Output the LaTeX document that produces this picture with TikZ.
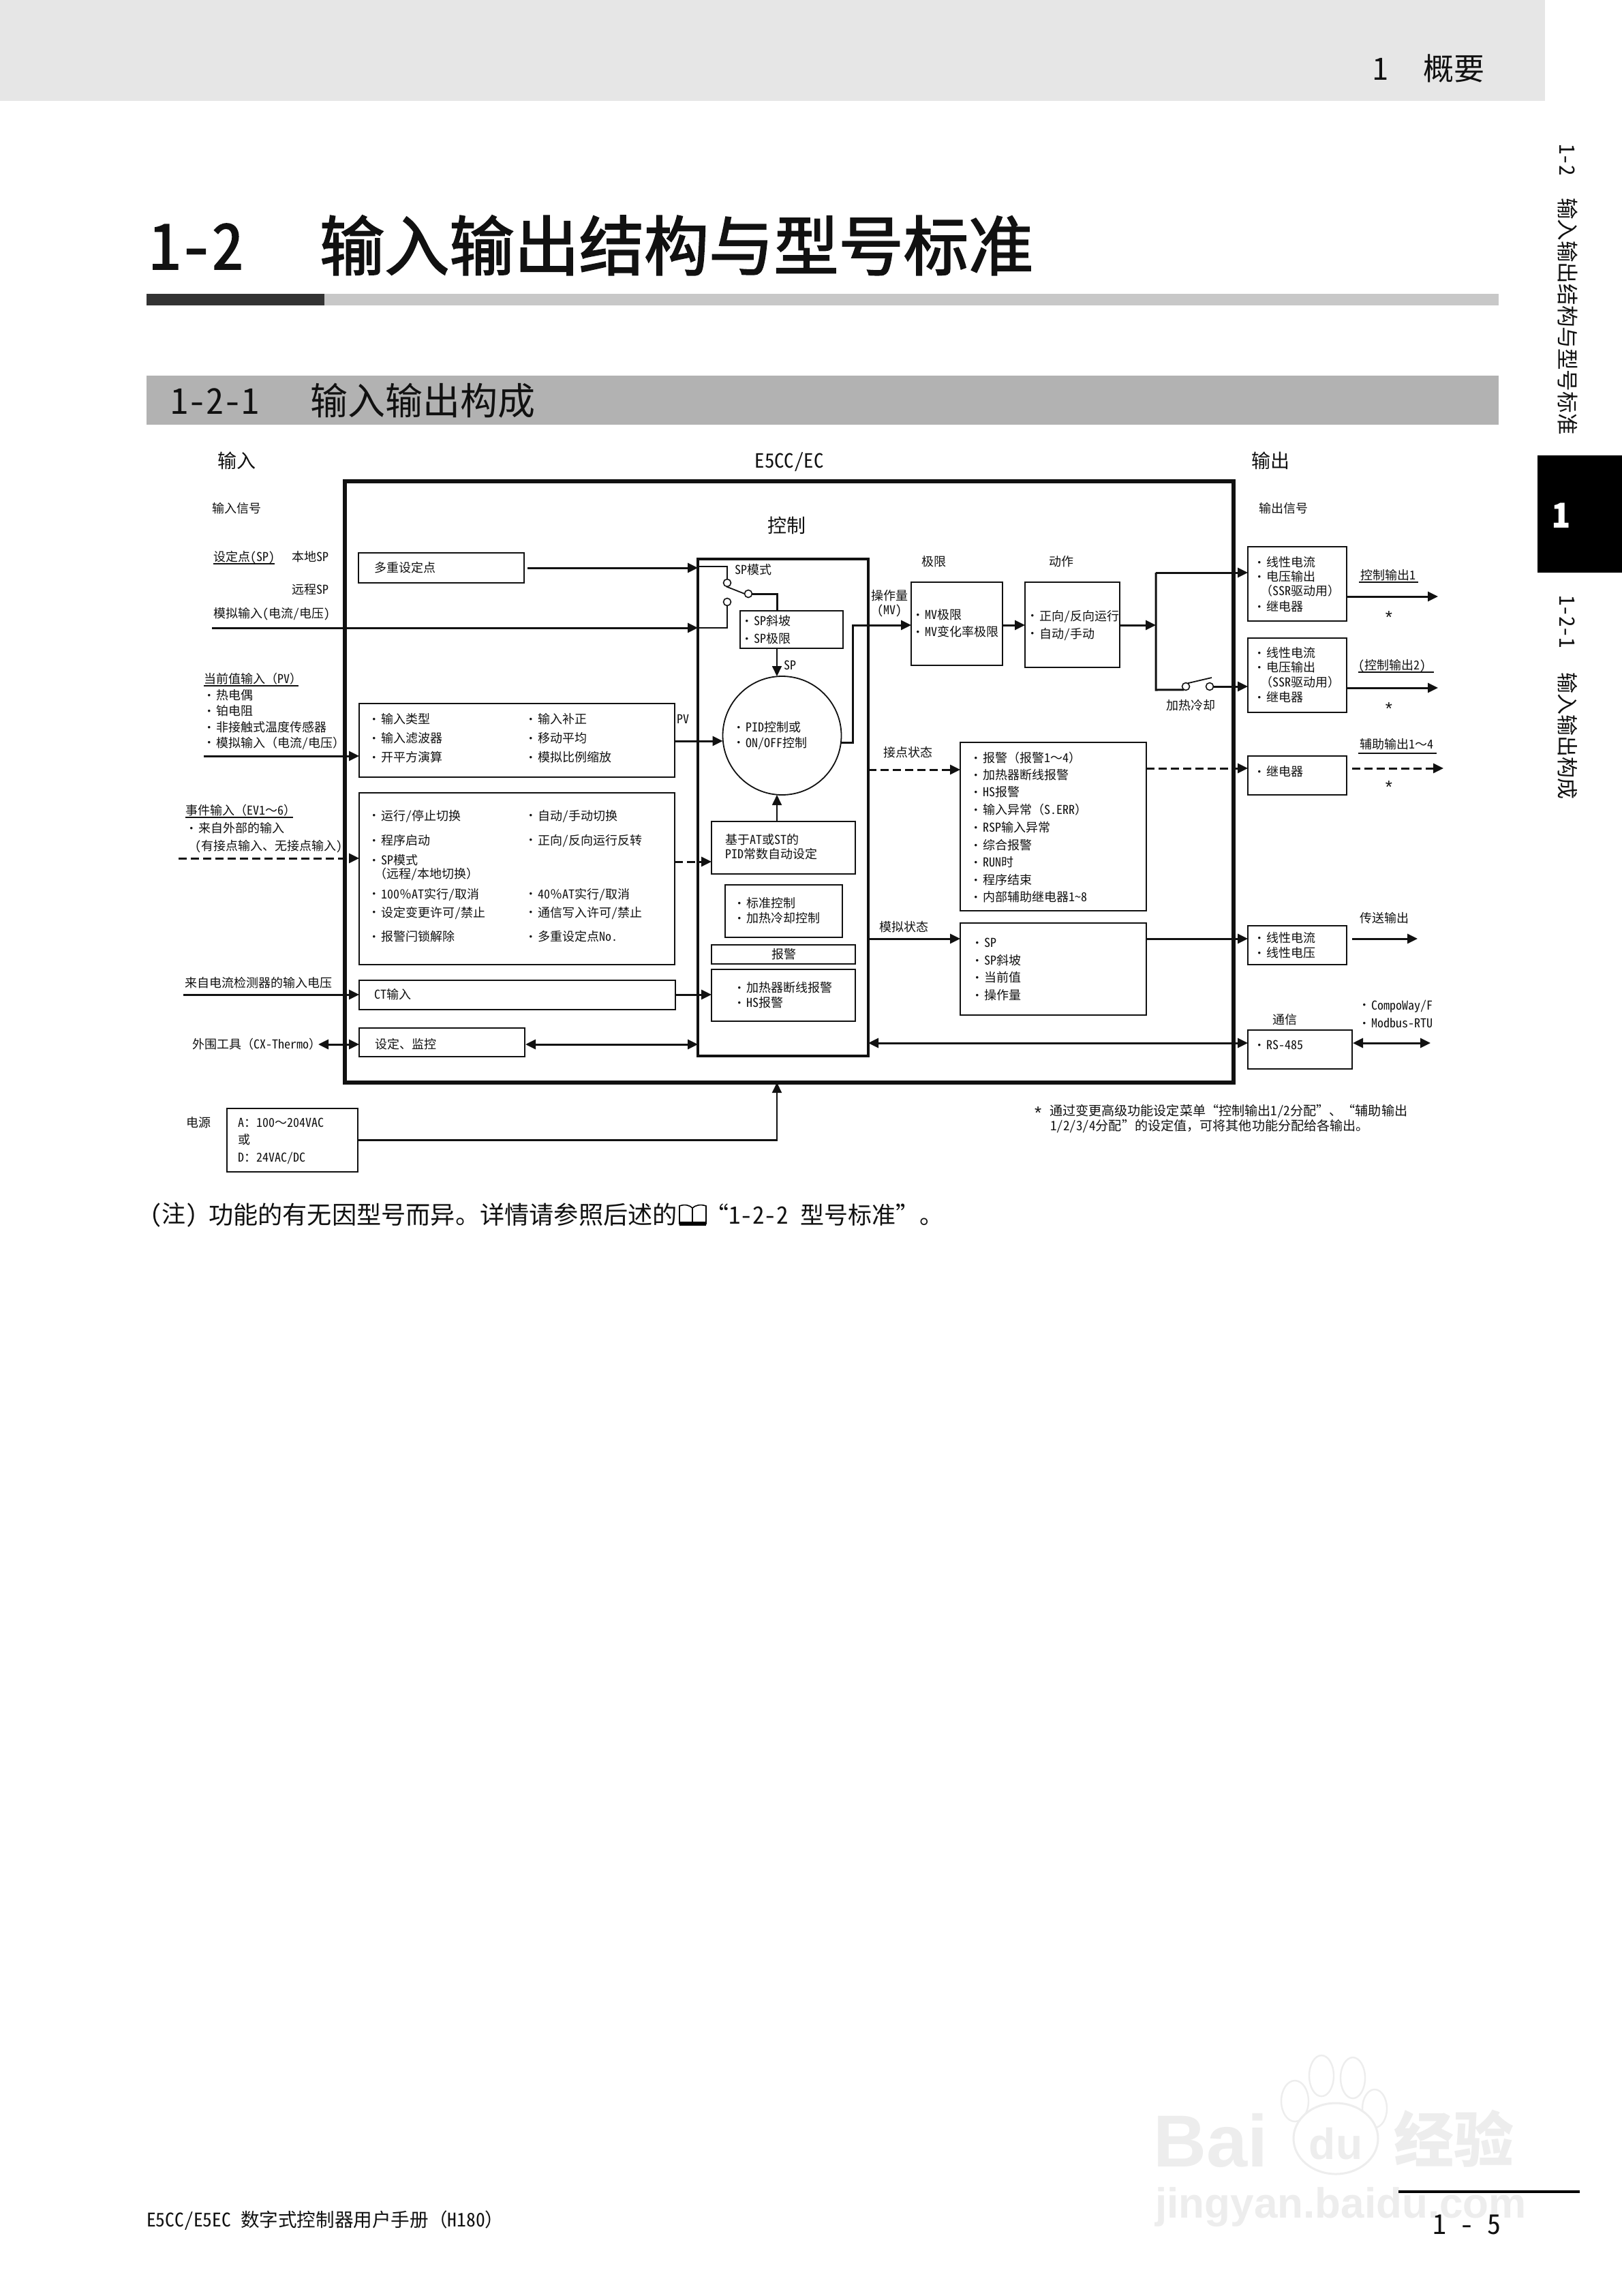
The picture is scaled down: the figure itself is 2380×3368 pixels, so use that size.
\documentclass[tikz,border=0pt]{standalone}
\usepackage{fontspec}
\setmainfont[RawFeature=+hwid]{Noto Sans CJK SC}
\newfontfamily\fwf{Noto Sans CJK SC}
\newfontfamily\wmfont{Liberation Sans}
\usetikzlibrary{arrows.meta}
\definecolor{hdr}{HTML}{E6E6E6}
\definecolor{barD}{HTML}{333333}
\definecolor{barL}{HTML}{C8C8C8}
\definecolor{barS}{HTML}{B2B2B2}
\definecolor{wm}{HTML}{EDEDED}
\definecolor{ink}{HTML}{111111}
\newcounter{tc}
\newcommand\fz[1]{\fontsize{#1}{#1}\selectfont}
\newcommand\stt{\rule[-.12em]{0pt}{1em}}
\newcommand\F[1]{{\fwf #1}}
\newcommand\bul{\llap{\makebox[10pt][c]{\raisebox{1.2pt}{\wmfont\fz{6.5}•}}}}
\newcommand\astk{{\wmfont\fz{13}*}}
\tikzset{
  txt/.style={inner sep=0pt,outer sep=0pt,text=ink},
  boxn/.style={draw=ink,line width=1pt,inner sep=0pt,outer sep=0pt,rectangle},
  thinb/.style={boxn,line width=.8pt},
  cont/.style={circle,draw=ink,line width=.8pt,minimum size=5.5pt,inner sep=0pt,outer sep=0pt},
  line/.style={draw=ink,line width=1.5pt},
  tline/.style={draw=ink,line width=.9pt},
  arr/.style={line,-{Triangle[length=7.5pt,width=7pt]}},
  darr/.style={line,{Triangle[length=7.5pt,width=7pt]}-{Triangle[length=7.5pt,width=7pt]}},
  dashy/.style={dash pattern=on 6pt off 3pt},
  ul/.style={draw=ink,line width=.6pt},
}
\newcommand\bx[6][boxn]{\node[#1,minimum width={(#5-#3)*0.5pt},minimum height={(#6-#4)*0.5pt}] (#2) at ({(#3+#5)/2},{(#4+#6)/2}) {};}
\newcommand\T[4][9]{\stepcounter{tc}\node[txt,anchor=west,font=\fz{#1}] (t\arabic{tc}) at (#2,#3) {\stt #4};}
\newcommand\C[4][9]{\stepcounter{tc}\node[txt,anchor=center,font=\fz{#1}] (t\arabic{tc}) at (#2,#3) {\stt #4};}
\newcommand\B[4][9]{\stepcounter{tc}\node[txt,anchor=west,font=\fz{#1}] (t\arabic{tc}) at (#2,#3) {\stt\bul #4};}
\newcommand\R[4]{\stepcounter{tc}\node[txt,rotate=-90,anchor=west,font=\fz{#1}] (t\arabic{tc}) at (#2,#3) {\stt #4};}
\begin{document}
\begin{tikzpicture}[x=0.5pt,y=-0.5pt]
\useasboundingbox (0,0) rectangle (2380,3368);
\fill[white] (0,0) rectangle (2380,3368);
% page furniture
\fill[hdr] (0,0) rectangle (2267,148);
\T[22.5]{2014}{100}{1}
\T[22.5]{2088}{100}{概要}
\fill[black] (2256,668) rectangle (2380,840);
\stepcounter{tc}\node[inner sep=0pt,text=white,font=\fz{25}\bfseries] (t\arabic{tc}) at (2291,756) {1};
\R{15.5}{2300}{211}{1-2}
\R{15.8}{2300}{290}{输入输出结构与型号标准}
\R{15.5}{2300}{873}{1-2-1}
\R{15.5}{2300}{986}{输入输出构成}
\T[46]{219}{360}{\addfontfeature{FakeBold=2}1-2}
\T[47.6]{469}{360}{\addfontfeature{FakeBold=2}输入输出结构与型号标准}
\fill[barL] (476,431) rectangle (2199,448);
\fill[barD] (215,431) rectangle (476,448);
\fill[barS] (215,551) rectangle (2199,623);
\T[26]{250}{588}{1-2-1}
\T[27.5]{455}{588}{输入输出构成}
% watermark
\foreach \px/\py/\rx/\ry in {1900/3082/20/30,1939/3045/18/30,1985/3048/18/30,2017/3093/18/28}
  \draw[wm,line width=1.2pt,fill=white] (\px,\py) ellipse ({\rx*0.5pt} and {\ry*0.5pt});
\draw[wm,line width=1.5pt,fill=white] (1960,3137) ellipse (31pt and 26pt);
\stepcounter{tc}\node[inner sep=0pt,anchor=west,text=wm,font=\wmfont\bfseries\fz{54}] (t\arabic{tc}) at (1692,3140) {Bai};
\stepcounter{tc}\node[inner sep=0pt,text=wm,font=\wmfont\bfseries\fz{32}] (t\arabic{tc}) at (1960,3145) {du};
\stepcounter{tc}\node[inner sep=0pt,anchor=west,text=wm,font=\bfseries\fz{44}] (t\arabic{tc}) at (2045,3137) {经验};
\stepcounter{tc}\node[inner sep=0pt,anchor=west,text=wm,font=\wmfont\bfseries\fz{31}] (t\arabic{tc}) at (1695,3238) {jingyan.baidu.com};
% footer
\draw[black,line width=2pt] (2052,3215) -- (2318,3215);
\T[20]{2102}{3262}{1 - 5}
\T[13.8]{215}{3257}{E5CC/E5EC 数字式控制器用户手册\F{（}H180\F{）}}
% note
\T[17.5]{220}{1782}{(注)}
\T[18.1]{306}{1782}{功能的有无因型号而异。详情请参照后述的}
\draw[black,line width=.8pt] (997,1769) .. controls (1005,1766) and (1012,1768) .. (1016,1772) .. controls (1020,1768) and (1028,1766) .. (1036,1769) -- (1036,1795) .. controls (1028,1792) and (1020,1794) .. (1016,1797) .. controls (1012,1794) and (1005,1792) .. (997,1795) -- cycle (1016,1772) -- (1016,1797);
\fill[black] (997,1792) rectangle (1036,1798);
\T[17.5]{1034}{1782}{“1-2-2 型号标准”。}
% titles
\C[14]{347}{676}{输入}
\C[14.4]{1158}{676}{E5CC/EC}
\C[14]{1864}{676}{输出}
\C[14]{1154}{771}{控制}
\T{311}{746}{输入信号}
\T{1847}{746}{输出信号}
% main frames
\bx[boxn,line width=2.6pt]{frame}{506}{706}{1810}{1588}
\bx[boxn,line width=2.2pt]{ctrl}{1024}{820}{1274}{1549}
% left labels
\T{313}{817}{设定点(SP)}
\draw[ul] (313,827) -- (403,827);
\T{428}{817}{本地SP}
\T{428}{865}{远程SP}
\T{313}{900}{模拟输入(电流/电压)}
\T{299}{996}{当前值输入\F{（}PV\F{）}}
\draw[ul] (299,1006) -- (438,1006);
\B{317}{1020}{热电偶}
\B{317}{1043}{铂电阻}
\B{317}{1067}{非接触式温度传感器}
\B{317}{1090}{模拟输入\F{（}电流/电压\F{）}}
\T{272}{1189}{事件输入\F{（}EV1\F{～}6\F{）}}
\draw[ul] (272,1199) -- (430,1199);
\B{291}{1215}{来自外部的输入}
\T{286}{1241}{（有接点输入、无接点输入）}
\T{271}{1442}{来自电流检测器的输入电压}
\T{282}{1532}{外围工具\F{（}CX-Thermo\F{）}}
\T{273}{1647}{电源}
% left boxes
\bx{msp}{526}{811}{769}{855}
\T{549}{833}{多重设定点}
\bx[thinb]{inb}{527}{1032}{990}{1140}
\B{559}{1055}{输入类型}
\B{559}{1083}{输入滤波器}
\B{559}{1111}{开平方演算}
\B{789}{1055}{输入补正}
\B{789}{1083}{移动平均}
\B{789}{1111}{模拟比例缩放}
\T{993}{1055}{PV}
\bx[thinb]{evb}{527}{1163}{990}{1415}
\B{559}{1197}{运行/停止切换}
\B{559}{1233}{程序启动}
\B{559}{1262}{SP模式}
\T{549}{1282}{\F{（}远程/本地切换\F{）}}
\B{559}{1312}{100\F{％}AT实行/取消}
\B{559}{1339}{设定变更许可/禁止}
\B{559}{1374}{报警闩锁解除}
\B{789}{1197}{自动/手动切换}
\B{789}{1233}{正向/反向运行反转}
\B{789}{1312}{40\F{％}AT实行/取消}
\B{789}{1339}{通信写入许可/禁止}
\B{789}{1374}{多重设定点No.}
\bx[thinb]{ctb}{527}{1438}{991}{1481}
\T{549}{1459}{CT输入}
\bx[thinb]{setb}{527}{1508}{770}{1550}
\T{550}{1532}{设定\F{、}监控}
\bx[thinb]{pwr}{333}{1626}{525}{1719}
\T{349}{1647}{A\F{：}100\F{～}204VAC}
\T{349}{1672}{或}
\T{349}{1698}{D\F{：}24VAC/DC}
% control interior
\T{1078}{836}{SP模式}
\node[cont] (c1) at (1067,855) {};
\node[cont] (c2) at (1067,883) {};
\node[cont] (c3) at (1098,871) {};
\bx{spb}{1086}{896}{1237}{951}
\B{1106}{911}{SP斜坡}
\B{1106}{937}{SP极限}
\T{1150}{976}{SP}
\node[draw=ink,line width=.9pt,circle,minimum size=87pt,inner sep=0pt,outer sep=0pt] (pid) at (1147.5,1079) {};
\B{1094}{1067}{PID控制或}
\B{1094}{1090}{ON/OFF控制}
\bx{atb}{1044}{1205}{1255}{1282}
\T{1064}{1232}{基于AT或ST的}
\T{1064}{1253}{PID常数自动设定}
\bx[thinb]{stb}{1064}{1298}{1236}{1375}
\B{1095}{1325}{标准控制}
\B{1095}{1347}{加热冷却控制}
\bx[thinb]{alh}{1044}{1386}{1255}{1414}
\C{1150}{1400}{报警}
\bx[thinb]{hsb}{1044}{1422}{1255}{1498}
\B{1095}{1449}{加热器断线报警}
\B{1095}{1471}{HS报警}
% middle
\C{1305}{874}{操作量}
\C{1305}{895}{(MV)}
\C{1370}{824}{极限}
\C{1557}{824}{动作}
\bx[thinb]{mvb}{1337}{854}{1471}{976}
\B{1357}{902}{MV极限}
\B{1357}{927}{MV变化率极限}
\bx[thinb]{actb}{1504}{854}{1643}{979}
\B{1525}{904}{正向/反向运行}
\B{1525}{930}{自动/手动}
\T{1296}{1104}{接点状态}
\T{1290}{1360}{模拟状态}
\bx[thinb]{alb}{1409}{1089}{1682}{1336}
\B{1442}{1112}{报警\F{（}报警1\F{～}4\F{）}}
\B{1442}{1137}{加热器断线报警}
\B{1442}{1162}{HS报警}
\B{1442}{1188}{输入异常\F{（}S.ERR\F{）}}
\B{1442}{1214}{RSP输入异常}
\B{1442}{1240}{综合报警}
\B{1442}{1265}{RUN时}
\B{1442}{1291}{程序结束}
\B{1442}{1316}{内部辅助继电器1～8}
\bx[thinb]{anb}{1409}{1354}{1682}{1489}
\B{1444}{1383}{SP}
\B{1444}{1409}{SP斜坡}
\B{1444}{1434}{当前值}
\B{1444}{1460}{操作量}
\node[cont] (c4) at (1740,1007) {};
\node[cont] (c5) at (1775,1007) {};
\C{1747}{1035}{加热冷却}
% right
\bx{o1}{1831}{802}{1976}{911}
\B{1858}{825}{线性电流}
\B{1858}{846}{电压输出}
\T{1849}{867}{\F{（}SSR驱动用\F{）}}
\B{1858}{890}{继电器}
\bx{o2}{1831}{936}{1976}{1045}
\B{1858}{958}{线性电流}
\B{1858}{979}{电压输出}
\T{1849}{1001}{\F{（}SSR驱动用\F{）}}
\B{1858}{1023}{继电器}
\bx{o3}{1831}{1109}{1976}{1166}
\B{1858}{1132}{继电器}
\bx{o4}{1831}{1358}{1976}{1415}
\B{1858}{1376}{线性电流}
\B{1858}{1398}{线性电压}
\bx[thinb]{o5}{1831}{1511}{1984}{1568}
\B{1858}{1533}{RS-485}
\T{1996}{844}{控制输出1}
\draw[ul] (1994,854) -- (2081,854);
\C{2038}{907}{\astk}
\T{1993}{976}{(控制输出2)}
\draw[ul] (1993,986) -- (2104,986);
\C{2038}{1041}{\astk}
\T{1995}{1092}{辅助输出1\F{～}4}
\draw[ul] (1993,1105) -- (2108,1105);
\C{2038}{1156}{\astk}
\T{1995}{1347}{传送输出}
\C{1885}{1496}{通信}
\B{2012}{1475}{CompoWay/F}
\B{2012}{1501}{Modbus-RTU}
\T[9.5]{1518}{1634}{\astk}
\T[9.55]{1540}{1630}{通过变更高级功能设定菜单\F{“}控制输出1/2分配\F{”、“}辅助输出}
\T[9.55]{1541}{1652}{1/2/3/4分配\F{”}的设定值\F{，}可将其他功能分配给各输出。}
% connectors: free ends and junctions
\coordinate (aIn) at (311,921);
\coordinate (pvIn) at (299,1109);
\coordinate (evIn) at (262,1259);
\coordinate (ctIn) at (269,1459);
\coordinate (tool) at (467,1532);
\coordinate (jSP) at (1024,831);
\coordinate (jMV) at (1251,917);
\coordinate (jBr) at (1696,917);
\coordinate (jBrT) at (1696,840);
\coordinate (jBrB) at (1696,1012);
\coordinate (blade) at (1778,994);
\coordinate (oo1) at (2110,875);
\coordinate (oo2) at (2110,1009);
\coordinate (oo3) at (2118,1127);
\coordinate (oo4) at (2080,1377);
\coordinate (oo5) at (2099,1530);
\draw[arr] ([xshift=2.5pt]msp.east) -- (ctrl.west |- msp.east);
\draw[tline] (jSP) -| (c1.north);
\draw[arr] (aIn) -- (ctrl.west |- aIn);
\draw[tline] (ctrl.west |- aIn) -| (c2.south);
\draw[tline] (c1.south) ++(-1,0) -- (c3.west);
\draw[line] (c3.east) -| (spb.north -| 1140,0);
\draw[arr,line width=.9pt] (spb.south -| 1140,0) -- (pid.north -| 1140,0);
\draw[arr,line width=.9pt] (atb.north -| 1140,0) -- (pid.south -| 1140,0);
\draw[arr] (pvIn) -- (inb.west |- pvIn);
\draw[arr] (inb.east |- 0,1087) -- (pid.west |- 0,1087);
\draw[arr,dashy] (evIn) -- (evb.west |- evIn);
\draw[arr,dashy] (evb.east |- 0,1264) -- (atb.west |- 0,1264);
\draw[arr] (ctIn) -- (ctb.west |- ctIn);
\draw[arr] (ctb.east |- ctIn) -- (hsb.west |- ctIn);
\draw[darr] (tool) -- (setb.west |- tool);
\draw[darr] ([xshift=.5pt]setb.east |- tool) -- (ctrl.west |- tool);
\draw[arr,line width=1.1pt] (pwr.east) -| (frame.south -| 1140,0);
\draw[arr] (pid.-7) -| (jMV) -- (mvb.west |- jMV);
\draw[arr] (mvb.east |- jMV) -- (actb.west |- jMV);
\draw[arr] (actb.east |- jMV) -- (jBr);
\draw[line] (jBrT) -- (jBrB) -- (c4.-120);
\draw[arr] (jBrT) -- (o1.west |- jBrT);
\draw[tline] (c4.60) -- (blade);
\draw[arr] (c5.east) -- (o2.west |- c5.east);
\draw[arr] (o1.east |- oo1) -- (oo1);
\draw[arr] (o2.east |- oo2) -- (oo2);
\draw[arr,dashy] (ctrl.east |- 0,1129) -- (alb.west |- 0,1129);
\draw[arr,dashy] (alb.east |- 0,1127) -- (o3.west |- 0,1127);
\draw[arr,dashy] ([xshift=4pt]o3.east |- oo3) -- (oo3);
\draw[arr] (ctrl.east |- 0,1377) -- (anb.west |- 0,1377);
\draw[arr] (anb.east |- 0,1377) -- (o4.west |- 0,1377);
\draw[arr] ([xshift=4pt]o4.east |- oo4) -- (oo4);
\draw[darr] (ctrl.east |- oo5) -- (o5.west |- oo5);
\draw[darr] ([xshift=.5pt]o5.east |- oo5) -- (oo5);
\end{tikzpicture}
\end{document}
